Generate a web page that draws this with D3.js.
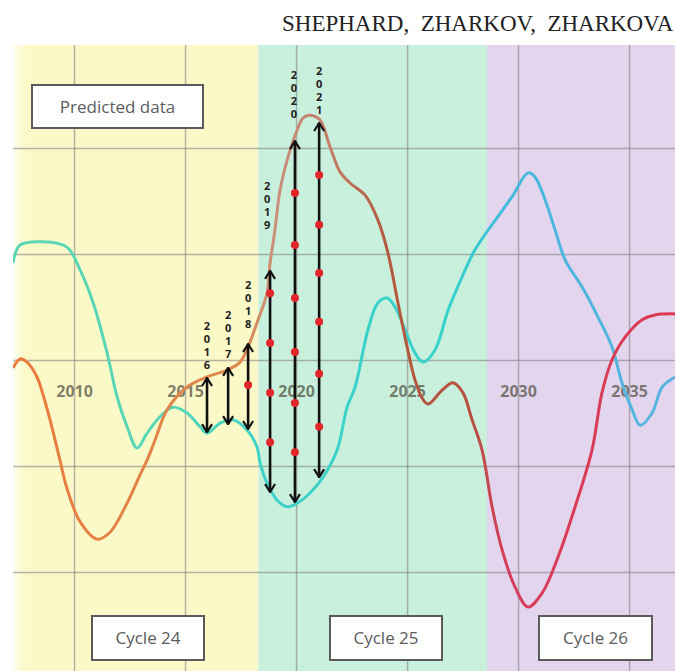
<!DOCTYPE html>
<meta charset="utf-8">
<script src="https://d3js.org/d3.v7.min.js"></script>
<style>
  body { margin: 0; background: #fff; }
  svg text { white-space: pre; }
</style>
<div id="chart"></div>
<script>
// ---- data ----
var cycleNames = ["Cycle 24", "Cycle 25", "Cycle 26"];
var cycleEdges = [2007.25, 2018.3, 2028.6, 2037.07];
var yearTicks = [2010, 2015, 2020, 2025, 2030, 2035];
var levelTicks = [0, 20, 40, 60, 80];

// red/orange curve
var orangeYears = [2007.25, 2007.57, 2007.88, 2008.33, 2008.6, 2008.92, 2009.14, 2009.37, 2009.68,
  2010.27, 2011.04, 2011.62, 2012.39, 2012.97, 2013.29, 2013.65, 2014.19, 2015.09, 2015.99,
  2016.89, 2017.48, 2017.84, 2018.29, 2018.69, 2018.83, 2019.05, 2019.28, 2019.73, 2020.05,
  2020.32, 2020.63, 2021.08, 2021.53, 2021.98, 2022.43, 2023.11, 2023.69, 2024.14, 2024.59,
  2025.0, 2025.36, 2025.68, 2025.95, 2026.58, 2027.07, 2027.52, 2027.93, 2028.38, 2028.83,
  2029.28, 2029.86, 2030.45, 2031.08, 2031.8, 2032.57, 2033.33, 2033.78, 2034.23, 2034.82,
  2035.59, 2036.17, 2037.07];
var orangeValues = [38.5, 40.2, 39.6, 36.8, 33.5, 28.7, 25.0, 21.0, 15.8,
  9.5, 6.2, 7.5, 13.0, 18.3, 21.1, 24.9, 30.6, 34.9, 36.8,
  38.1, 39.6, 42.5, 47.6, 52.6, 58.3, 64.5, 72.1, 79.6, 83.4,
  85.7, 86.2, 85.3, 80.2, 75.5, 73.4, 71.1, 66.4, 60.2, 50.8,
  42.5, 36.2, 32.8, 31.7, 34.3, 35.7, 33.8, 28.7, 23.0, 12.3,
  4.2, -2.8, -6.6, -4.0, 2.8, 12.3, 23.0, 33.8, 40.0, 44.3,
  47.6, 48.5, 48.7];

// cyan/blue curve
var cyanYears = [2007.25, 2007.57, 2008.6, 2009.68, 2010.27, 2010.86, 2011.49, 2011.94, 2012.39,
  2012.84, 2013.29, 2013.87, 2014.46, 2015.09, 2015.68, 2015.99, 2016.58, 2017.16, 2017.79,
  2018.24, 2018.38, 2018.69, 2019.14, 2019.59, 2020.05, 2020.63, 2021.22, 2021.85, 2022.3,
  2022.66, 2023.24, 2023.69, 2024.1, 2024.46, 2024.91, 2025.36, 2025.72, 2026.26, 2026.85,
  2027.48, 2028.06, 2028.65, 2029.73, 2030.45, 2030.77, 2031.22, 2031.67, 2032.12, 2032.88,
  2033.6, 2034.23, 2034.68, 2035.14, 2035.5, 2036.04, 2036.49, 2037.07];
var cyanValues = [58.3, 61.7, 62.3, 61.3, 57.0, 50.8, 41.3, 33.0, 27.4,
  23.4, 26.2, 29.3, 31.1, 30.0, 27.4, 26.2, 28.1, 28.7, 26.8,
  23.6, 20.6, 16.8, 13.6, 12.3, 13.0, 14.9, 17.9, 23.0, 31.1,
  34.9, 45.7, 50.8, 51.7, 50.0, 45.7, 41.3, 39.6, 41.9, 49.4,
  55.7, 60.8, 64.5, 70.8, 75.3, 74.5, 70.2, 64.5, 58.9, 53.8,
  48.1, 42.5, 35.7, 30.6, 27.7, 30.0, 34.9, 36.8];

// yearly arrows between the curves
var arrowLabels = ["2016", "2017", "2018", "2019", "2020", "2021"];
var arrowYears = [2015.99, 2016.94, 2017.84, 2018.83, 2019.95, 2021.04];
var arrowTop = [36.8, 38.7, 43.2, 57.0, 81.5, 84.9];
var arrowBottom = [26.2, 27.7, 26.8, 14.9, 13.0, 17.7];
var arrowDots = [
  [],
  [],
  [35.3],
  [52.6, 43.2, 33.8, 24.5],
  [71.5, 61.7, 51.7, 41.5, 31.9, 22.6],
  [74.9, 65.5, 56.4, 47.2, 37.4, 27.4]
];

// ---- layout ----
var W = 675, H = 671;
var plot = { left: 13, top: 45, right: 675, bottom: 671 };

var svg = d3.select("#chart").append("svg")
  .attr("width", W)
  .attr("height", H);

var x = d3.scaleLinear().domain([2007.25, 2037.07]).range([plot.left, plot.right]);
var y = d3.scaleLinear().domain([0, 80]).range([572, 148]);

var defs = svg.append("defs");
defs.append("clipPath").attr("id", "clip")
  .append("rect")
  .attr("x", plot.left).attr("y", plot.top)
  .attr("width", plot.right - plot.left).attr("height", plot.bottom - plot.top);

// background bands, one per cycle
var bandColors = ["#fcf9c9", "#c9f0dc", "#e4d5ef"];
svg.selectAll("rect.band")
  .data(cycleNames)
  .enter().append("rect")
    .attr("class", "band")
    .attr("x", function(d, i) { return x(cycleEdges[i]); })
    .attr("y", plot.top)
    .attr("width", function(d, i) { return x(cycleEdges[i + 1]) - x(cycleEdges[i]); })
    .attr("height", plot.bottom - plot.top)
    .attr("fill", function(d, i) { return bandColors[i]; });

// faint light edge on the left of the plot
var fade = defs.append("linearGradient").attr("id", "fade");
fade.append("stop").attr("offset", 0).attr("stop-color", "#fff").attr("stop-opacity", 0.7);
fade.append("stop").attr("offset", 1).attr("stop-color", "#fff").attr("stop-opacity", 0);
svg.append("rect")
  .attr("x", plot.left).attr("y", plot.top)
  .attr("width", 12).attr("height", plot.bottom - plot.top)
  .attr("fill", "url(#fade)");

// grid
var grid = svg.append("g").attr("clip-path", "url(#clip)");
grid.append("g")
  .attr("transform", "translate(0," + plot.bottom + ")")
  .call(d3.axisBottom(x).tickValues(yearTicks).tickSize(-(plot.bottom - plot.top)).tickFormat(""))
  .call(function(g) { g.select(".domain").remove(); });
grid.append("g")
  .attr("transform", "translate(" + plot.left + ",0)")
  .call(d3.axisLeft(y).tickValues(levelTicks).tickSize(-(plot.right - plot.left)).tickFormat(""))
  .call(function(g) { g.select(".domain").remove(); });
grid.selectAll(".tick line")
  .attr("stroke", "#7c7c7c")
  .attr("stroke-opacity", 0.55)
  .attr("stroke-width", 1.5);

// year labels sit inside the plot
var yearAxis = svg.append("g")
  .attr("transform", "translate(0,386)")
  .call(d3.axisBottom(x).tickValues(yearTicks).tickSize(0).tickPadding(0).tickFormat(d3.format("d")));
yearAxis.select(".domain").remove();
yearAxis.selectAll("text")
  .attr("dy", "0.71em")
  .attr("fill", "#4a4a3a")
  .attr("fill-opacity", 0.7)
  .style("font-family", "'Open Sans', sans-serif")
  .style("font-size", "16px")
  .style("font-weight", "bold");

// curve colour changes along time
function addGradient(id, stops) {
  var g = defs.append("linearGradient")
    .attr("id", id)
    .attr("gradientUnits", "userSpaceOnUse")
    .attr("x1", x(2007.25)).attr("x2", x(2037.07))
    .attr("y1", 0).attr("y2", 0);
  stops.forEach(function(s) {
    g.append("stop")
      .attr("offset", (s[0] - 2007.25) / (2037.07 - 2007.25))
      .attr("stop-color", s[1]);
  });
}
addGradient("gOrange", [[2007.25, "#ea7c3c"], [2017.5, "#dc8a50"], [2019.2, "#c9907e"],
  [2021.5, "#c27e6a"], [2024, "#b45a40"], [2027.8, "#b65040"], [2029.6, "#d63e5e"], [2037.07, "#dd3a50"]]);
addGradient("gCyan", [[2007.25, "#5ad8b2"], [2014, "#58d6b6"], [2018.5, "#3ed2c8"],
  [2027, "#35d2cc"], [2029.5, "#45b8dc"], [2037.07, "#5ab4e0"]]);

var line = d3.line()
  .x(function(d) { return x(d[0]); })
  .y(function(d) { return y(d[1]); })
  .curve(d3.curveCatmullRom.alpha(0.5));

var curves = svg.append("g").attr("clip-path", "url(#clip)");
curves.append("path")
  .attr("d", line(d3.zip(cyanYears, cyanValues)))
  .attr("fill", "none")
  .attr("stroke", "url(#gCyan)")
  .attr("stroke-width", 3);
curves.append("path")
  .attr("d", line(d3.zip(orangeYears, orangeValues)))
  .attr("fill", "none")
  .attr("stroke", "url(#gOrange)")
  .attr("stroke-width", 3);

// arrows
defs.append("marker")
  .attr("id", "head")
  .attr("viewBox", "0 -6 10 12")
  .attr("refX", 9).attr("refY", 0)
  .attr("markerUnits", "userSpaceOnUse")
  .attr("markerWidth", 10).attr("markerHeight", 12)
  .attr("orient", "auto-start-reverse")
  .append("path")
    .attr("d", "M1,-5L9,0L1,5")
    .attr("fill", "none")
    .attr("stroke", "#111")
    .attr("stroke-width", 2.2);

var arrows = svg.append("g");
arrows.selectAll("line")
  .data(arrowLabels)
  .enter().append("line")
    .attr("x1", function(d, i) { return x(arrowYears[i]); })
    .attr("x2", function(d, i) { return x(arrowYears[i]); })
    .attr("y1", function(d, i) { return y(arrowTop[i]) + 1; })
    .attr("y2", function(d, i) { return y(arrowBottom[i]) - 1; })
    .attr("stroke", "#111")
    .attr("stroke-width", 2.6)
    .attr("marker-start", "url(#head)")
    .attr("marker-end", "url(#head)");

arrowDots.forEach(function(vals, i) {
  arrows.selectAll("circle.d" + i)
    .data(vals)
    .enter().append("circle")
      .attr("class", "d" + i)
      .attr("cx", x(arrowYears[i]))
      .attr("cy", function(v) { return y(v); })
      .attr("r", 4)
      .attr("fill", "#e3262a");
});

// vertical year labels above arrows, digits stacked upright (value at top of label)
var labelTop = [48.0, 50.0, 55.7, 74.3, 95.3, 96.0];
var labelShift = [0, 0, 0, -3, -1, 0];
arrows.selectAll("text.lab")
  .data(arrowLabels)
  .enter().append("text")
    .attr("class", "lab")
    .attr("x", function(d, i) { return x(arrowYears[i]) + labelShift[i]; })
    .attr("y", function(d, i) { return y(labelTop[i]); })
    .attr("fill", "#222")
    .style("writing-mode", "vertical-rl")
    .style("text-orientation", "upright")
    .style("letter-spacing", "-2px")
    .style("font-family", "'Open Sans', sans-serif")
    .style("font-size", "11px")
    .style("font-weight", "bold")
    .text(function(d) { return d; });

// text boxes
var boxes = [
  { text: "Predicted data", x0: 32, x1: 203, y0: 85, y1: 128 },
  { text: cycleNames[0], x0: 92, x1: 204, y0: 616, y1: 660 },
  { text: cycleNames[1], x0: 330, x1: 442, y0: 616, y1: 660 },
  { text: cycleNames[2], x0: 539, x1: 652, y0: 616, y1: 660 }
];
var box = svg.selectAll("g.box")
  .data(boxes)
  .enter().append("g").attr("class", "box");
box.append("rect")
  .attr("x", function(d) { return d.x0; })
  .attr("y", function(d) { return d.y0; })
  .attr("width", function(d) { return d.x1 - d.x0; })
  .attr("height", function(d) { return d.y1 - d.y0; })
  .attr("fill", "#fff")
  .attr("stroke", "#5a5a5a")
  .attr("stroke-width", 2);
box.append("text")
  .attr("x", function(d) { return (d.x0 + d.x1) / 2; })
  .attr("y", function(d) { return (d.y0 + d.y1) / 2 + 6; })
  .attr("text-anchor", "middle")
  .attr("fill", "#5c5c5c")
  .style("font-family", "'Open Sans', sans-serif")
  .style("font-size", "17px")
  .text(function(d) { return d.text; });

// title
svg.append("text")
  .attr("x", 282)
  .attr("y", 31)
  .attr("fill", "#222")
  .style("font-family", "'Liberation Serif', serif")
  .style("font-size", "23px")
  .text("SHEPHARD,  ZHARKOV,  ZHARKOVA");
</script>
